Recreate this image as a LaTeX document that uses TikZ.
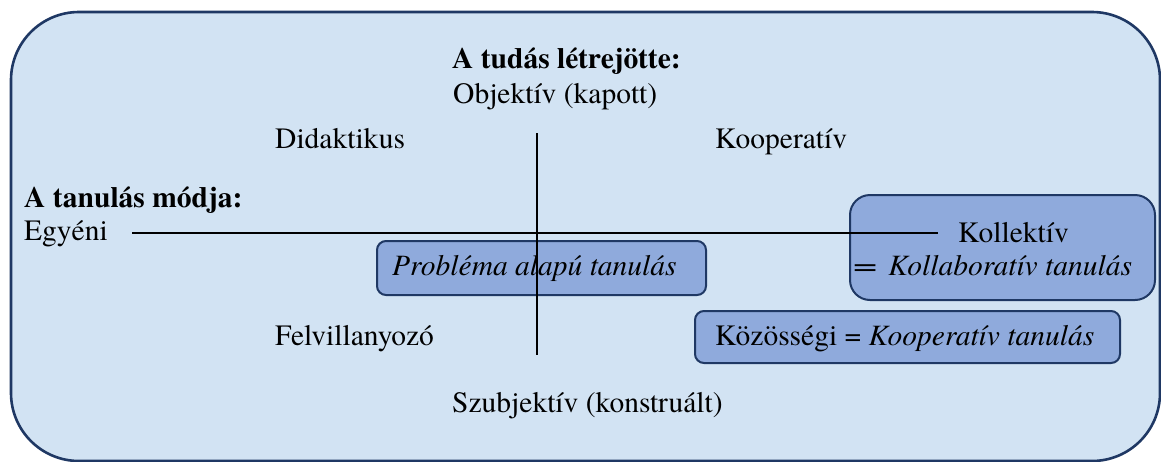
\documentclass[tikz,border=0pt]{standalone}
\usepackage{fontspec}
\usepackage{graphicx}
\setmainfont{texgyretermes}[Extension=.otf,UprightFont=*-regular,BoldFont=*-bold,ItalicFont=*-italic,BoldItalicFont=*-bolditalic]
\definecolor{outerfill}{HTML}{D2E3F3}
\definecolor{boxfill}{HTML}{8FAADC}
\definecolor{navy}{HTML}{1F3864}
\begin{document}
\begin{tikzpicture}[x=1pt,y=-1pt,
  txt/.style={anchor=base west,inner sep=0pt,font=\rmfamily\fontsize{29.5}{33}\selectfont},
  bold/.style={anchor=base west,inner sep=0pt,font=\rmfamily\fontsize{29.5}{33}\selectfont\bfseries},
  cbox/.style={draw=navy,line width=2pt,fill=boxfill,rounded corners=#1},
  axis/.style={draw=black,line width=1.2pt}]
\useasboundingbox (0,0) rectangle (1161,461);
\begin{scope}
\clip (0,0) rectangle (1161,461);
\draw[draw=navy,line width=2.6pt,fill=outerfill,rounded corners=68pt] (11,12) rectangle (1160,461);
\end{scope}
% boxes
\draw[cbox=9pt] (377,241) rectangle (706,295);
\draw[cbox=20pt] (850,195) rectangle (1155,300);
\draw[cbox=9pt] (695,311) rectangle (1120,363);
% axes
\coordinate (hl) at (132,233);
\coordinate (hr) at (938,233);
\coordinate (vt) at (537,133);
\coordinate (vb) at (537,355);
\draw[axis] (hl) -- (hr);
\draw[axis] (vt) -- (vb);
% texts
\node[bold] (tud) at (452,68) {A tudás létrejötte:};
\node[txt] (obj) at (453,103) {Objektív (kapott)};
\node[txt] (did) at (275,148) {Didaktikus};
\node[txt] (koo) at (715,148) {Kooperatív};
\node[bold] (mod) at (24,207) {A tanulás módja:};
\node[txt] (egy) at (24,240) {Egyéni};
\node[txt] (kol) at (958,242) {Kollektív};
\node[txt] (kolb) at (853,275) {\scalebox{1.45}[1]{=}\hspace{11pt}\textit{Kollaboratív tanulás}};
\node[txt] (prob) at (392,275) {\textit{Probléma alapú tanulás}};
\node[txt] (fel) at (275,345) {Felvillanyozó};
\node[txt] (koz) at (715,345) {Közösségi = \textit{Kooperatív tanulás}};
\node[txt] (szu) at (452,412) {Szubjektív (konstruált)};
\end{tikzpicture}
\end{document}
